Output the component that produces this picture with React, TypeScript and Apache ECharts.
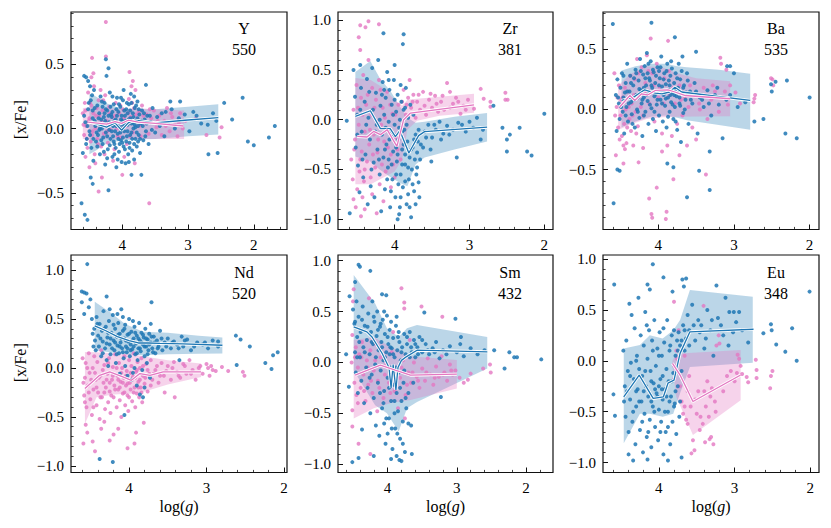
import React, { useEffect, useRef } from 'react';
import * as echarts from 'echarts';

const FONT = '"Liberation Serif", "DejaVu Serif", serif';
const BLUE = '#1f77b4';
const PINK = '#e377c2';

const ELEMENTS = ['Y', 'Zr', 'Ba', 'Nd', 'Sm', 'Eu'];
const COUNTS = ['550', '381', '535', '520', '432', '348'];
const X_TICKS = [4, 3, 2];
const Y_TICKS_SMALL = [-0.5, 0, 0.5];
const Y_TICKS_LARGE = [-1, -0.5, 0, 0.5, 1];
const X_RANGES = [[4.78, 1.495], [4.757, 1.884], [4.73, 1.876], [4.75, 1.96], [4.717, 1.61], [4.738, 1.885]];
const Y_RANGES = [[-0.785, 0.907], [-1.104, 1.083], [-0.998, 0.81], [-1.067, 1.153], [-1.082, 1.056], [-1.098, 1.04]];

// ---------- Y ----------
const Y_BLUE_PTS = [[4.62,-0.58],[4.57,-0.67],[4.53,-0.71],[4.60,-0.19],[4.58,0.41],[4.55,0.40],[4.52,0.37],[4.49,0.33],[4.24,0.41],[4.21,0.47],[4.25,0.54],[4.21,-0.48],[4.48,-0.38],[4.45,-0.43],[3.64,0.34],[3.86,-0.36],[3.71,-0.36],[3.12,0.21],[2.87,0.10],[2.70,0.03],[2.69,-0.20],[2.55,-0.19],[2.45,0.20],[2.33,0.07],[2.17,0.24],[2.09,-0.10],[2.00,-0.13],[1.77,-0.07],[1.68,0.02],[3.27,0.21],[3.34,0.13],
[4.56,0.05],[4.54,-0.08],[4.52,0.15],[4.50,-0.02],[4.48,0.22],[4.47,-0.15],[4.45,0.08],[4.44,-0.25],[4.43,0.30],[4.41,0.02],[4.40,-0.10],[4.38,0.18],[4.37,-0.05],[4.35,0.12],[4.34,-0.20],[4.33,0.25],[4.31,0.00],[4.30,-0.12],[4.28,0.09],[4.27,0.20],[4.26,-0.28],[4.25,-0.03],[4.23,0.14],[4.22,-0.16],[4.20,0.05],[4.19,0.28],[4.18,-0.08],[4.17,0.11],[4.15,-0.22],[4.14,0.02],[4.13,0.19],[4.12,-0.12],[4.10,0.07],[4.09,-0.30],[4.08,0.24],[4.07,-0.04],[4.06,0.13],[4.05,-0.18],[4.04,0.01],[4.03,0.17],[4.02,-0.09],[4.01,-0.26],[4.00,0.06],[3.99,0.22],[3.98,-0.14],[3.97,-0.02],[3.96,0.10],[3.95,-0.27],[3.94,0.15],[3.93,-0.06],[3.92,0.03],[3.91,-0.20],[3.90,0.19],[3.89,-0.11],[3.88,0.08],[3.87,0.27],[3.86,-0.03],[3.85,-0.17],[3.84,0.12],[3.83,0.00],[3.82,-0.24],[3.81,0.16],[3.80,-0.08],[3.79,0.06],[3.78,-0.14],[3.77,0.21],[3.76,0.02],[3.75,-0.05],[3.74,0.11],[3.73,-0.19],[3.72,0.04],[3.70,0.14],[3.68,-0.09],[3.66,0.07],[3.64,-0.02],[3.62,0.10],[3.60,-0.12],[3.57,0.05],[3.54,0.16],[3.50,-0.03],[3.47,0.09],[3.43,0.02],[3.40,0.12],[3.36,-0.06],[3.30,0.05],[3.25,0.15],[3.20,0.00],[3.14,0.08],[3.05,0.11],[2.98,-0.02],[2.92,0.13],[2.80,0.04],[2.62,0.12],[2.57,0.06],
[4.45,0.14],[4.39,-0.03],[4.32,0.07],[4.29,-0.07],[4.24,0.02],[4.16,0.09],[4.11,-0.02],[4.06,0.04],[4.01,0.10],[3.96,0.03],[3.92,0.12],[3.88,-0.05],[3.84,0.05],[3.80,0.01],[3.76,-0.10],[4.20,-0.01],[4.14,-0.06],[4.27,0.12],[4.35,-0.01],[4.42,0.06],[4.09,0.15],[3.99,-0.07],[4.04,-0.12],[3.94,-0.10],[4.18,0.17],[3.86,0.20],[4.12,-0.20],[3.98,0.30],[4.23,-0.23],[4.07,-0.24],[3.90,-0.26],[4.15,0.25],[3.82,0.25],[4.30,0.17],[4.02,0.24],
[4.58,0.10],[4.55,-0.12],[4.53,0.02],[4.51,0.20],[4.49,-0.05],[4.46,0.26],[4.44,-0.08],[4.42,0.16],[4.40,0.04],[4.38,-0.14],[4.36,0.08],[4.34,0.00],[4.32,-0.09],[4.31,0.21],[4.29,0.03],[4.28,-0.18],[4.26,0.06],[4.25,0.15],[4.23,-0.06],[4.21,0.10],[4.19,-0.13],[4.18,0.03],[4.16,-0.02],[4.15,0.13],[4.13,-0.10],[4.12,0.06],[4.10,-0.15],[4.09,0.02],[4.08,0.10],[4.06,-0.08],[4.05,0.19],[4.03,-0.03],[4.02,0.07],[4.00,-0.11],[3.99,0.03],[3.97,0.14],[3.96,-0.16],[3.95,0.06],[3.93,0.20],[3.92,-0.02],[3.90,0.07],[3.89,-0.15],[3.88,0.14],[3.86,0.04],[3.85,-0.08],[3.83,0.09],[3.82,-0.12],[3.81,0.03],[3.79,0.18],[3.78,-0.03],[3.77,0.08],[3.75,0.15],[3.73,-0.08],[3.71,0.06],[3.69,0.02],[3.67,0.12],[3.65,-0.06],[3.63,0.04],[3.58,0.10],[3.55,-0.01]];
const Y_PINK_PTS = [[4.25,0.83],[4.25,0.56],[4.46,0.55],[4.44,0.43],[3.89,0.44],[3.84,0.37],[4.36,-0.49],[4.31,-0.38],[4.00,-0.36],[3.59,-0.58],[3.81,-0.27],[4.50,-0.30],[2.49,0.01],[2.52,-0.07],[2.72,-0.05],[2.88,0.08],
[4.60,0.12],[4.58,-0.05],[4.57,0.20],[4.55,0.02],[4.53,-0.15],[4.52,0.28],[4.50,0.08],[4.48,-0.10],[4.47,0.18],[4.45,-0.02],[4.43,0.33],[4.42,-0.20],[4.40,0.10],[4.38,-0.08],[4.36,0.22],[4.34,0.04],[4.32,-0.14],[4.30,0.14],[4.28,-0.04],[4.26,0.26],[4.24,0.06],[4.22,-0.11],[4.20,0.17],[4.18,-0.01],[4.15,0.09],[4.12,-0.16],[4.10,0.20],[4.08,0.00],[4.05,0.12],[4.02,-0.07],[3.99,0.15],[3.96,0.05],[3.93,-0.12],[3.90,0.23],[3.87,0.09],[3.84,-0.03],[3.82,0.16],[3.80,0.30],[3.78,0.07],[3.75,0.13],[3.72,-0.06],[3.70,0.18],[3.66,0.04],[3.63,0.11],[3.60,-0.04],[3.56,0.08],[3.52,0.14],[3.48,0.01],[3.44,0.10],[3.40,-0.05],[3.36,0.06],[3.32,0.16],[3.28,-0.02],[3.24,0.09],[3.20,0.03],[3.16,-0.06],[3.12,0.12],[3.08,0.00],[3.04,0.06],[4.56,-0.22],[4.41,-0.27],[4.27,-0.20],[4.14,-0.25],[3.97,-0.22],[4.47,0.40],[4.33,0.30],[3.86,0.33],
[4.59,0.03],[4.56,0.14],[4.54,-0.08],[4.51,0.06],[4.49,0.20],[4.46,-0.05],[4.44,0.12],[4.41,0.00],[4.39,0.16],[4.37,-0.12],[4.35,0.10],[4.31,0.05],[4.29,0.22],[4.23,-0.02],[4.19,0.12],[4.16,0.04],[4.11,0.10],[4.07,-0.06],[4.03,0.18],[3.98,0.08],[3.94,0.02],[3.91,0.12],[3.88,-0.06],[3.85,0.20],[3.79,0.11],[3.74,0.02],[3.68,0.10],[3.58,0.15],[3.46,0.06],[3.34,0.02],[3.26,0.12],[3.14,0.04]];
const Y_BLUE_BAND = [[4.50,-0.20,0.27],[4.40,-0.17,0.25],[4.25,-0.12,0.20],[4.10,-0.10,0.17],[3.95,-0.09,0.15],[3.80,-0.085,0.15],[3.50,-0.08,0.15],[3.00,-0.06,0.17],[2.54,-0.045,0.19]];
const Y_PINK_BAND = [[4.60,-0.08,0.16],[4.40,-0.08,0.17],[4.20,-0.085,0.16],[4.00,-0.08,0.15],[3.80,-0.08,0.16],[3.50,-0.08,0.15],[3.06,-0.08,0.14]];
const Y_BLUE_MED = [[4.49,0.05],[4.24,0.012],[4.11,0.044],[4.01,-0.013],[3.91,0.044],[3.81,0.065],[3.50,0.045],[3.05,0.065],[2.54,0.085]];
const Y_PINK_MED = [[4.52,0.05],[4.24,0.035],[4.11,0.055],[4.01,0.04],[3.91,0.065],[3.76,0.05],[3.50,0.04],[3.07,0.02]];

// ---------- Zr ----------
const ZR_BLUE_PTS = [[4.64,-0.01],[4.60,-0.94],[4.15,0.87],[3.88,0.86],[3.89,0.76],[2.68,0.14],[2.56,-0.08],[2.50,-0.20],[2.46,-0.15],[2.50,-0.32],[2.33,-0.08],[2.23,-0.32],[2.17,-0.36],[2.00,0.06],[3.17,-0.38],[3.51,-0.42],[3.68,-0.63],[3.67,-0.78],[2.85,-0.20],
[4.55,0.50],[4.53,0.23],[4.52,-0.28],[4.50,0.05],[4.49,-0.46],[4.47,-0.73],[4.46,0.55],[4.45,0.32],[4.44,-0.12],[4.42,-0.58],[4.40,0.18],[4.39,-0.35],[4.37,0.41],[4.36,-0.85],[4.35,0.02],[4.33,-0.20],[4.32,-0.67],[4.30,0.52],[4.29,0.10],[4.28,-0.43],[4.27,-0.78],[4.25,0.27],[4.24,-0.05],[4.23,-0.30],[4.22,0.60],[4.20,-0.55],[4.19,0.14],[4.18,-0.92],[4.17,-0.15],[4.16,0.38],[4.15,-0.38],[4.14,0.05],[4.13,-0.70],[4.12,0.22],[4.11,-0.25],[4.10,0.48],[4.09,-0.48],[4.08,-0.02],[4.07,0.30],[4.06,-0.88],[4.05,-0.12],[4.04,0.15],[4.03,-0.60],[4.02,-0.32],[4.01,0.40],[4.00,-0.05],[3.99,-0.78],[3.98,0.08],[3.97,-0.42],[3.96,0.25],[3.95,-0.20],[3.94,-0.95],[3.93,0.00],[3.92,-0.55],[3.91,0.18],[3.90,-0.30],[3.89,-0.68],[3.88,0.10],[3.87,-0.10],[3.86,-0.45],[3.85,0.32],[3.84,-0.85],[3.83,-0.22],[3.82,0.02],[3.81,-0.60],[3.80,-0.38],[3.79,0.15],[3.78,-0.98],[3.77,-0.50],[3.76,-0.28],[3.75,0.05],[3.74,-0.72],[3.73,-0.40],[3.72,-0.15],[3.71,-0.55],[3.70,-0.33],[3.68,-0.10],[3.65,-0.25],[3.60,-0.12],[3.55,-0.05],[3.50,-0.18],[3.45,-0.10],[3.40,-0.02],[3.35,-0.14],[3.30,-0.06],[3.22,-0.10],[3.15,-0.03],[3.05,-0.12],[2.95,-0.08],[2.90,0.02],[4.08,-0.40],[3.95,-0.65],[4.02,0.05],[3.90,-0.12],[3.98,-0.28],[4.12,-0.08],[4.20,0.00],[3.86,-0.35],[3.82,-0.75],[3.93,-0.88],[4.05,-0.72],[4.00,0.55],[3.96,-1.00],
[4.50,-0.15],[4.46,0.10],[4.43,-0.40],[4.38,-0.05],[4.34,0.28],[4.31,-0.50],[4.26,-0.12],[4.21,-0.40],[4.17,0.25],[4.13,-0.30],[4.10,-0.60],[4.07,-0.20],[4.04,-0.45],[4.01,-0.15],[3.98,-0.55],[3.96,-0.35],[3.94,-0.08],[3.92,-0.78],[3.90,-0.45],[3.88,-0.25],[3.86,-0.62],[3.84,-0.05],[3.82,-0.48],[3.80,-0.88],[3.78,-0.30],[3.76,-0.65],[3.74,-0.20],[3.72,-0.85],[3.70,-0.48],[3.69,-0.22],[3.66,-0.40],[3.62,-0.28],[3.58,-0.18],[3.52,-0.30],[3.47,-0.05],[3.38,-0.20],[3.27,-0.15],[3.10,-0.05],[3.00,-0.02],[2.82,-0.10],[4.00,0.20],[4.08,0.40],[4.14,0.30],[3.92,0.35],[3.86,0.12]];
const ZR_PINK_PTS = [[4.46,0.95],[4.35,0.99],[4.39,0.93],[4.48,0.83],[4.46,0.70],[4.21,0.96],[4.55,-0.80],[4.45,-0.97],[4.40,-0.90],[4.24,-0.94],[3.30,0.37],[3.26,0.28],[2.85,0.31],[2.81,0.21],[2.72,0.18],[2.72,0.13],[2.52,0.27],[2.52,0.20],[2.49,0.20],[2.94,0.11],
[4.58,-0.40],[4.56,-0.60],[4.55,0.10],[4.53,-0.20],[4.51,0.35],[4.50,-0.70],[4.48,-0.05],[4.47,-0.52],[4.45,0.22],[4.44,-0.32],[4.42,0.45],[4.41,-0.62],[4.40,-0.12],[4.38,0.15],[4.37,-0.42],[4.35,0.60],[4.34,-0.25],[4.32,-0.58],[4.31,0.05],[4.30,0.32],[4.28,-0.15],[4.26,-0.48],[4.25,0.20],[4.23,-0.33],[4.21,0.40],[4.20,-0.65],[4.18,-0.05],[4.16,0.12],[4.14,-0.22],[4.12,-0.52],[4.10,0.28],[4.08,-0.10],[4.05,-0.35],[4.03,0.06],[4.00,-0.58],[3.98,-0.18],[3.95,0.15],[3.92,-0.40],[3.88,0.30],[3.85,0.05],[3.82,0.22],[3.80,0.40],[3.78,0.12],[3.75,0.25],[3.72,0.02],[3.70,0.18],[3.66,0.10],[3.62,0.28],[3.58,0.05],[3.54,0.20],[3.50,0.12],[3.46,0.24],[3.42,0.08],[3.38,0.18],[3.34,0.10],[3.22,0.16],[3.18,0.22],[3.12,0.06],[3.08,0.14],[3.02,0.20],[4.43,-0.78],[4.30,-0.75],[4.15,-0.82],[4.05,-0.68],[4.52,-0.88],
[4.54,-0.30],[4.49,0.12],[4.46,-0.40],[4.43,0.05],[4.40,-0.50],[4.36,0.25],[4.33,-0.10],[4.29,-0.35],[4.27,0.12],[4.22,-0.20],[4.19,0.30],[4.17,-0.45],[4.13,0.02],[4.09,-0.28],[4.06,0.15],[4.02,-0.45],[3.99,0.05],[3.96,-0.30],[3.90,0.18],[3.84,0.15],[3.76,0.18],[3.68,0.25],[3.60,0.14],[3.52,0.26],[3.44,0.16],[3.36,0.24],[3.26,0.12],[3.15,0.18],[3.05,0.10]];
const ZR_BLUE_BAND = [[4.525,-0.37,0.48],[4.325,-0.42,0.59],[4.20,-0.50,0.42],[4.05,-0.58,0.28],[3.92,-0.64,0.12],[3.83,-0.67,0.02],[3.72,-0.45,-0.03],[3.60,-0.38,-0.02],[3.20,-0.30,0.03],[2.765,-0.22,0.067]];
const ZR_PINK_BAND = [[4.525,-0.65,0.42],[4.32,-0.65,0.40],[4.15,-0.58,0.32],[4.00,-0.52,0.20],[3.90,-0.40,0.14],[3.83,-0.10,0.20],[3.70,-0.01,0.21],[3.40,0.04,0.23],[2.94,0.07,0.26]];
const ZR_BLUE_MED = [[4.525,0.033],[4.325,0.09],[4.19,-0.09],[4.06,-0.09],[3.99,-0.17],[3.93,-0.11],[3.81,-0.335],[3.68,-0.16],[3.60,-0.12],[2.765,-0.075]];
const ZR_PINK_MED = [[4.50,-0.168],[4.37,-0.174],[4.28,-0.118],[4.19,-0.15],[4.10,-0.10],[3.97,-0.268],[3.88,0.0],[3.79,0.067],[2.94,0.15]];

// ---------- Ba ----------
const BA_BLUE_PTS = [[4.60,0.71],[4.59,-0.78],[4.09,0.72],[3.78,0.60],[3.50,0.48],[3.62,-0.73],[3.88,-0.45],[3.80,-0.48],[3.32,-0.67],[3.32,-0.35],[3.46,-0.51],[3.15,-0.24],[3.09,0.36],[3.05,0.36],[3.00,0.30],[2.73,-0.10],[2.61,-0.08],[2.45,0.23],[2.51,0.21],[2.50,0.15],[2.30,0.24],[2.32,-0.20],[2.17,-0.24],[2.00,0.10],[4.51,-0.51],[4.54,-0.50],
[4.56,0.12],[4.55,-0.18],[4.54,0.25],[4.52,0.05],[4.51,-0.08],[4.50,0.18],[4.48,0.30],[4.47,-0.02],[4.46,0.10],[4.45,-0.20],[4.43,0.22],[4.42,0.02],[4.41,0.38],[4.40,-0.10],[4.38,0.15],[4.37,0.28],[4.35,-0.04],[4.34,0.08],[4.33,0.20],[4.31,-0.15],[4.30,0.33],[4.29,0.12],[4.28,0.00],[4.26,0.24],[4.25,-0.07],[4.24,0.42],[4.23,0.16],[4.22,0.05],[4.21,-0.22],[4.20,0.29],[4.19,0.10],[4.18,0.36],[4.17,-0.02],[4.16,0.20],[4.15,0.47],[4.14,0.07],[4.13,-0.12],[4.12,0.26],[4.11,0.14],[4.10,0.40],[4.09,0.01],[4.08,0.18],[4.07,-0.08],[4.06,0.31],[4.05,0.11],[4.04,0.22],[4.03,-0.18],[4.02,0.04],[4.01,0.35],[4.00,0.15],[3.99,-0.05],[3.98,0.26],[3.97,0.08],[3.96,0.44],[3.95,0.19],[3.94,-0.10],[3.93,0.12],[3.92,0.30],[3.91,0.03],[3.90,0.21],[3.89,-0.15],[3.88,0.38],[3.87,0.10],[3.86,0.16],[3.85,-0.02],[3.84,0.28],[3.83,0.06],[3.82,0.34],[3.81,0.14],[3.80,-0.08],[3.79,0.22],[3.78,0.02],[3.77,0.30],[3.76,0.11],[3.75,-0.17],[3.74,0.18],[3.73,0.38],[3.72,0.05],[3.71,0.25],[3.70,-0.27],[3.69,0.13],[3.68,0.44],[3.67,-0.03],[3.66,0.20],[3.64,0.08],[3.62,0.30],[3.60,-0.12],[3.58,0.15],[3.55,0.05],[3.52,0.22],[3.48,-0.20],[3.45,0.10],[3.40,0.02],[3.35,0.16],[3.30,-0.05],[3.25,0.12],[3.20,0.04],[3.10,0.08],[2.95,0.02],[2.85,0.06],[4.44,0.14],[4.36,0.06],[4.27,0.10],[4.19,0.18],[4.11,0.24],[4.03,0.13],[3.96,0.16],[3.90,0.09],[3.84,0.12],[3.78,0.16],[3.72,0.10],[4.32,0.26],[4.14,0.30],[3.99,0.32],[3.86,0.24],
[4.53,0.10],[4.49,0.02],[4.46,0.28],[4.43,-0.05],[4.41,0.15],[4.39,0.05],[4.36,0.22],[4.34,-0.12],[4.31,0.08],[4.29,0.30],[4.27,-0.02],[4.25,0.17],[4.23,0.32],[4.21,0.08],[4.19,-0.05],[4.17,0.26],[4.15,0.12],[4.13,0.38],[4.11,0.04],[4.09,0.20],[4.07,0.33],[4.05,-0.02],[4.03,0.28],[4.01,0.08],[3.99,0.20],[3.97,0.35],[3.95,0.05],[3.93,0.25],[3.91,0.14],[3.89,0.32],[3.87,-0.06],[3.85,0.20],[3.83,0.40],[3.81,0.04],[3.79,0.12],[3.77,-0.10],[3.75,0.26],[3.73,0.15],[3.71,0.03],[3.69,0.32],[3.67,0.18],[3.65,0.00],[3.63,0.14],[3.61,0.24],[3.57,0.08],[3.50,0.15],[3.42,0.08],[3.33,0.05],[3.22,0.18],[3.05,0.12]];
const BA_PINK_PTS = [[4.10,0.59],[3.87,0.57],[3.18,0.43],[3.17,0.38],[3.10,0.33],[2.51,0.26],[2.49,0.25],[2.48,0.20],[4.12,-0.74],[4.09,-0.87],[4.08,-0.90],[3.89,-0.85],[3.90,-0.91],[4.02,-0.65],[3.80,-0.58],[3.37,-0.54],[2.72,0.12],[2.73,0.09],[2.74,0.06],[4.56,-0.38],[4.44,-0.33],[4.26,-0.44],[4.46,-0.45],
[4.58,0.30],[4.55,0.02],[4.53,-0.15],[4.52,0.20],[4.50,-0.05],[4.48,-0.22],[4.47,0.10],[4.45,-0.12],[4.43,0.00],[4.42,-0.28],[4.40,0.15],[4.38,-0.08],[4.36,-0.18],[4.35,0.05],[4.33,-0.30],[4.31,0.25],[4.30,-0.02],[4.28,0.42],[4.27,-0.14],[4.25,0.12],[4.22,0.35],[4.20,-0.05],[4.17,0.22],[4.15,0.45],[4.12,0.05],[4.08,0.30],[4.05,-0.10],[4.02,0.38],[3.98,0.18],[3.95,-0.20],[3.92,0.26],[3.88,-0.30],[3.85,0.12],[3.82,-0.22],[3.78,0.05],[3.75,-0.12],[3.72,0.20],[3.68,-0.05],[3.65,0.10],[3.60,0.02],[3.55,-0.15],[3.50,0.12],[3.45,0.00],[3.40,0.18],[3.35,-0.08],[3.30,0.08],[3.25,0.15],[3.20,-0.02],[3.15,0.10],[3.08,0.04],[3.05,0.20],[2.98,0.14],[2.92,0.05],[3.62,-0.30],[3.72,-0.38],[3.50,-0.25],[3.95,-0.35],[4.20,-0.32],
[4.57,-0.05],[4.54,0.10],[4.51,-0.25],[4.49,0.08],[4.46,-0.30],[4.44,0.18],[4.41,-0.15],[4.39,0.02],[4.37,0.28],[4.34,-0.05],[4.32,0.12],[4.29,-0.20],[4.26,0.30],[4.23,0.02],[4.18,0.15],[4.13,0.32],[4.06,0.20],[4.00,0.10],[3.93,0.05],[3.86,0.32],[3.80,0.18],[3.70,0.08],[3.58,0.20],[3.46,0.05],[3.38,0.12],[3.28,0.20],[3.12,0.15]];
const BA_BLUE_BAND = [[4.485,-0.147,0.324],[4.30,-0.10,0.36],[4.10,-0.06,0.38],[3.90,-0.05,0.38],[3.75,-0.07,0.36],[3.62,-0.09,0.35],[3.20,-0.13,0.33],[2.785,-0.169,0.297]];
const BA_PINK_BAND = [[4.53,-0.17,0.20],[4.35,-0.12,0.30],[4.15,-0.08,0.36],[3.95,-0.065,0.35],[3.75,-0.06,0.30],[3.50,-0.058,0.26],[3.05,-0.056,0.235]];
const BA_BLUE_MED = [[4.485,0.075],[4.33,0.10],[4.18,0.163],[4.04,0.136],[3.95,0.13],[3.85,0.145],[3.78,0.185],[3.69,0.145],[2.785,0.075]];
const BA_PINK_MED = [[4.51,0.02],[4.375,0.116],[4.31,0.075],[4.22,0.13],[4.14,0.12],[4.04,0.158],[3.87,0.163],[3.78,0.145],[3.65,0.116],[3.05,0.089]];

// ---------- Nd ----------
const ND_BLUE_PTS = [[4.54,1.06],[4.61,0.78],[4.58,0.77],[4.55,0.76],[4.61,0.67],[4.50,0.70],[4.29,0.73],[3.72,0.45],[3.71,0.67],[4.38,-0.93],[4.21,-0.96],[4.06,-0.48],[2.62,0.33],[2.61,0.03],[2.56,0.29],[2.44,0.22],[2.24,0.05],[2.16,-0.01],[2.14,0.13],[2.08,0.16],[2.85,0.22],[3.32,0.32],[3.35,0.08],[3.82,-0.30],[3.86,-0.27],[4.58,0.55],[4.52,0.62],[4.48,0.50],
[4.45,0.40],[4.44,0.28],[4.43,0.18],[4.42,0.52],[4.40,0.33],[4.39,0.22],[4.38,0.45],[4.36,0.12],[4.35,0.38],[4.34,0.27],[4.33,0.58],[4.31,0.20],[4.30,0.42],[4.29,0.08],[4.28,0.31],[4.26,0.48],[4.25,0.24],[4.24,0.14],[4.23,0.36],[4.21,0.54],[4.20,0.28],[4.19,0.18],[4.18,0.40],[4.17,0.05],[4.16,0.32],[4.15,0.23],[4.14,0.46],[4.13,0.15],[4.12,0.35],[4.11,0.26],[4.10,0.60],[4.09,0.20],[4.08,0.38],[4.07,0.10],[4.06,0.30],[4.05,0.44],[4.04,0.22],[4.03,0.16],[4.02,0.34],[4.01,0.27],[4.00,0.50],[3.99,0.12],[3.98,0.24],[3.97,0.37],[3.96,0.19],[3.95,-0.05],[3.94,0.30],[3.93,0.42],[3.92,0.14],[3.91,0.25],[3.90,0.33],[3.89,0.08],[3.88,0.20],[3.87,0.46],[3.86,0.28],[3.85,0.17],[3.84,0.36],[3.83,-0.02],[3.82,0.24],[3.81,0.31],[3.80,0.12],[3.79,0.40],[3.78,0.22],[3.77,0.05],[3.76,0.29],[3.75,0.18],[3.74,0.35],[3.73,-0.10],[3.72,0.26],[3.70,0.20],[3.68,0.32],[3.66,0.15],[3.64,0.28],[3.62,0.22],[3.60,0.38],[3.57,0.18],[3.54,0.26],[3.50,0.30],[3.46,0.20],[3.42,0.27],[3.38,0.24],[3.30,0.22],[3.25,0.29],[3.20,0.18],[3.12,0.26],[3.05,0.24],[2.98,0.20],[2.92,0.28],[2.85,0.27],[4.05,0.02],[3.97,-0.12],[3.90,-0.18],[4.12,-0.06],[4.27,0.02],[3.80,-0.20],[3.93,0.00],[4.02,-0.08],
[4.47,0.35],[4.46,0.22],[4.41,0.45],[4.37,0.30],[4.34,0.15],[4.32,0.40],[4.29,0.25],[4.27,0.36],[4.24,0.30],[4.22,0.20],[4.20,0.44],[4.18,0.26],[4.16,0.14],[4.14,0.34],[4.12,0.22],[4.10,0.30],[4.08,0.16],[4.06,0.40],[4.04,0.28],[4.02,0.20],[4.00,0.35],[3.98,0.18],[3.96,0.28],[3.94,0.22],[3.92,0.36],[3.90,0.15],[3.88,0.30],[3.86,0.20],[3.84,0.26],[3.82,0.34],[3.80,0.22],[3.78,0.30],[3.76,0.14],[3.74,0.24],[3.71,0.32],[3.69,0.16],[3.67,0.26],[3.63,0.20],[3.58,0.30],[3.52,0.22],[3.44,0.26],[3.36,0.20],[3.28,0.28],[3.16,0.22],[3.02,0.26],[4.15,0.55],[4.08,0.52],[3.95,0.48],[4.25,0.60]];
const ND_PINK_PTS = [[4.59,-0.77],[4.47,-0.75],[4.54,-0.66],[4.56,-0.58],[4.25,-0.74],[4.20,-0.68],[4.14,-0.62],[3.93,-0.77],[3.91,-0.66],[3.81,-0.56],[4.36,-0.62],[4.32,-0.55],[2.92,-0.02],[2.94,0.02],[2.72,-0.03],[2.53,-0.04],[2.51,-0.08],[3.41,-0.30],[3.54,-0.25],[4.44,-0.85],[4.02,-0.82],
[4.60,0.10],[4.58,-0.28],[4.57,-0.10],[4.56,0.05],[4.55,-0.40],[4.53,-0.18],[4.52,0.15],[4.51,-0.05],[4.50,-0.32],[4.48,-0.48],[4.47,0.00],[4.46,-0.22],[4.45,0.12],[4.43,-0.12],[4.42,-0.38],[4.41,0.06],[4.40,-0.25],[4.38,-0.52],[4.37,-0.08],[4.36,0.18],[4.35,-0.30],[4.33,-0.15],[4.32,0.03],[4.31,-0.42],[4.30,-0.20],[4.28,-0.06],[4.27,-0.35],[4.26,0.10],[4.25,-0.24],[4.24,-0.46],[4.22,-0.12],[4.21,0.01],[4.20,-0.30],[4.19,-0.18],[4.18,0.14],[4.16,-0.40],[4.15,-0.08],[4.14,-0.22],[4.13,0.05],[4.12,-0.33],[4.11,-0.14],[4.10,-0.50],[4.09,0.00],[4.08,-0.26],[4.07,-0.10],[4.06,0.12],[4.05,-0.38],[4.04,-0.18],[4.03,-0.03],[4.02,-0.28],[4.01,-0.44],[4.00,0.08],[3.99,-0.15],[3.98,-0.22],[3.97,0.02],[3.96,-0.34],[3.95,-0.09],[3.94,0.15],[3.93,-0.20],[3.92,-0.40],[3.91,-0.04],[3.90,-0.26],[3.89,0.06],[3.88,-0.14],[3.87,-0.30],[3.86,0.00],[3.85,-0.20],[3.84,0.10],[3.83,-0.35],[3.82,-0.08],[3.80,-0.16],[3.78,0.04],[3.76,-0.24],[3.74,-0.06],[3.72,0.08],[3.70,-0.12],[3.66,-0.02],[3.62,-0.15],[3.58,0.05],[3.55,-0.08],[3.50,0.02],[3.46,-0.12],[3.42,0.06],[3.38,-0.04],[3.34,-0.10],[3.30,0.04],[3.26,-0.06],[3.22,0.08],[3.18,-0.02],[3.14,-0.12],[3.10,0.00],[3.05,-0.06],[3.00,0.04],[2.96,-0.08],[2.88,-0.03],[2.80,0.01],
[4.59,-0.15],[4.57,-0.35],[4.54,0.00],[4.52,-0.25],[4.49,-0.12],[4.46,-0.40],[4.44,-0.05],[4.42,-0.20],[4.39,-0.10],[4.37,-0.30],[4.34,-0.02],[4.32,-0.25],[4.29,-0.12],[4.27,0.05],[4.25,-0.15],[4.23,-0.28],[4.21,-0.08],[4.18,-0.22],[4.16,0.00],[4.14,-0.12],[4.12,-0.20],[4.10,-0.05],[4.08,-0.15],[4.06,-0.25],[4.04,-0.08],[4.02,-0.16],[4.00,-0.30],[3.98,-0.05],[3.96,-0.12],[3.94,-0.25],[3.92,-0.10],[3.90,-0.02],[3.88,-0.20],[3.86,-0.12],[3.84,-0.25],[3.82,0.02],[3.79,-0.10],[3.76,-0.02],[3.72,-0.18],[3.68,-0.06],[3.64,0.02],[3.60,-0.08],[3.52,-0.03],[3.44,0.00],[3.36,-0.08],[3.28,0.02],[3.20,-0.06],[3.08,0.02],[2.98,0.00]];
const ND_BLUE_BAND = [[4.443,0.18,0.675],[4.25,0.16,0.57],[4.05,0.14,0.45],[3.82,0.13,0.37],[3.50,0.14,0.36],[3.10,0.145,0.33],[2.795,0.147,0.31]];
const ND_PINK_BAND = [[4.57,-0.57,0.164],[4.42,-0.30,0.16],[4.20,-0.27,0.15],[3.95,-0.26,0.14],[3.82,-0.245,0.12],[3.50,-0.17,0.08],[3.07,-0.092,0.045]];
const ND_BLUE_MED = [[4.443,0.43],[4.30,0.38],[4.15,0.32],[4.00,0.28],[3.88,0.255],[3.75,0.255],[3.60,0.25],[3.30,0.245],[2.795,0.232]];
const ND_PINK_MED = [[4.57,-0.21],[4.38,-0.075],[4.25,-0.04],[4.08,-0.092],[3.97,-0.126],[3.86,-0.057],[3.73,-0.075],[3.56,-0.04],[3.07,-0.04]];

// ---------- Sm ----------
const SM_BLUE_PTS = [[4.42,0.96],[4.40,0.94],[4.25,0.90],[4.47,0.79],[4.55,0.65],[4.56,-0.24],[4.51,-0.98],[4.42,-0.94],[4.37,-0.66],[4.20,-0.92],[4.08,0.67],[4.02,0.66],[3.47,0.49],[3.02,0.43],[2.94,0.25],[2.46,0.12],[2.24,0.10],[2.31,-0.06],[2.17,0.05],[2.13,0.05],[1.78,0.03],[3.23,-0.34],[3.83,-0.96],[3.80,-0.97],[3.65,-0.90],[4.60,0.08],
[4.50,0.52],[4.48,0.38],[4.47,0.10],[4.46,-0.10],[4.45,0.60],[4.44,0.25],[4.43,-0.30],[4.42,0.45],[4.40,0.05],[4.39,0.30],[4.38,-0.18],[4.36,0.55],[4.35,0.15],[4.34,-0.40],[4.33,0.36],[4.31,-0.05],[4.30,0.22],[4.29,-0.25],[4.28,0.48],[4.26,0.08],[4.25,-0.50],[4.24,0.30],[4.23,-0.12],[4.22,0.60],[4.21,0.18],[4.20,-0.35],[4.19,0.40],[4.18,-0.02],[4.17,-0.62],[4.16,0.26],[4.15,0.50],[4.14,-0.20],[4.13,0.12],[4.12,-0.72],[4.11,0.35],[4.10,-0.08],[4.09,0.20],[4.08,-0.45],[4.07,0.42],[4.06,0.02],[4.05,-0.28],[4.04,0.28],[4.03,-0.80],[4.02,0.10],[4.01,0.46],[4.00,-0.15],[3.99,0.18],[3.98,-0.55],[3.97,0.32],[3.96,-0.05],[3.95,-0.38],[3.94,0.14],[3.93,-0.85],[3.92,0.24],[3.91,-0.22],[3.90,0.05],[3.89,-0.65],[3.88,0.36],[3.87,-0.30],[3.86,0.12],[3.85,-0.48],[3.84,-0.10],[3.83,0.20],[3.82,-0.75],[3.81,0.02],[3.80,-0.38],[3.79,0.15],[3.78,-0.58],[3.77,-0.20],[3.76,0.28],[3.75,-0.88],[3.74,0.08],[3.73,-0.45],[3.72,0.18],[3.70,-0.30],[3.68,0.30],[3.66,-0.62],[3.65,0.10],[3.62,0.22],[3.60,0.05],[3.57,0.15],[3.54,0.25],[3.50,0.10],[3.45,0.18],[3.40,0.08],[3.35,0.14],[3.30,0.20],[3.25,0.04],[3.20,0.12],[3.10,0.16],[3.00,0.10],[2.90,0.06],[2.80,0.14],[2.70,0.08],[2.60,0.12],[3.95,-0.95],[4.00,-0.70],[3.87,-0.92],[4.05,-0.60],[3.90,-0.50],[4.10,0.38],[3.97,0.08],[3.85,0.25],
[4.47,0.40],[4.44,0.05],[4.41,0.20],[4.37,0.42],[4.33,0.10],[4.29,0.35],[4.26,-0.15],[4.23,0.20],[4.20,0.45],[4.17,0.05],[4.14,0.32],[4.11,-0.30],[4.08,0.15],[4.06,-0.40],[4.04,0.05],[4.02,-0.55],[4.00,0.25],[3.98,-0.25],[3.96,0.15],[3.94,-0.65],[3.92,0.08],[3.90,-0.38],[3.88,-0.05],[3.86,-0.70],[3.84,0.30],[3.82,-0.25],[3.80,0.10],[3.78,-0.80],[3.76,-0.08],[3.74,-0.35],[3.72,0.25],[3.70,-0.60],[3.68,0.05],[3.66,0.15],[3.63,-0.20],[3.60,0.18],[3.56,0.08],[3.50,0.22],[3.42,0.12],[3.32,0.10],[3.15,0.08],[2.95,0.18],[4.05,0.50],[3.95,0.40],[3.87,0.45]];
const SM_PINK_PTS = [[4.49,0.72],[4.50,0.60],[4.51,0.27],[4.52,0.00],[4.51,-0.47],[4.51,-0.63],[4.42,-0.80],[4.25,-0.90],[4.27,0.63],[3.80,0.73],[3.76,0.59],[3.76,0.53],[3.51,0.55],[3.21,0.45],[2.80,-0.11],[2.84,-0.17],[2.52,-0.02],[2.51,-0.10],[2.62,-0.06],[2.90,-0.20],
[4.48,-0.20],[4.46,0.15],[4.45,-0.32],[4.43,-0.05],[4.41,0.08],[4.39,-0.25],[4.37,0.20],[4.35,-0.12],[4.32,-0.38],[4.30,0.02],[4.28,-0.22],[4.25,0.12],[4.22,-0.30],[4.20,-0.08],[4.17,0.18],[4.14,-0.18],[4.10,0.05],[4.06,-0.35],[4.02,-0.02],[3.98,-0.20],[3.94,0.10],[3.90,-0.28],[3.86,-0.06],[3.82,-0.15],[3.78,0.02],[3.74,-0.32],[3.70,-0.10],[3.66,-0.20],[3.62,0.00],[3.58,-0.14],[3.54,-0.25],[3.50,-0.06],[3.46,-0.18],[3.42,0.04],[3.38,-0.12],[3.34,-0.22],[3.30,-0.04],[3.26,-0.14],[3.22,0.06],[3.18,-0.10],[3.14,-0.18],[3.10,-0.02],[3.06,-0.12],[3.02,-0.08],[2.96,-0.15],[3.85,-0.45],[3.75,-0.55],[4.15,-0.48],[3.92,0.30],[3.68,0.22],
[4.47,0.05],[4.43,-0.40],[4.38,0.05],[4.34,-0.28],[4.29,-0.05],[4.24,-0.18],[4.18,0.02],[4.12,-0.25],[4.04,-0.12],[3.96,-0.30],[3.88,-0.18],[3.80,-0.05],[3.72,-0.22],[3.64,-0.10],[3.56,-0.18],[3.44,-0.10],[3.32,-0.15],[3.20,-0.12],[3.08,-0.08]];
const SM_BLUE_BAND = [[4.49,-0.08,0.86],[4.18,-0.42,0.58],[4.01,-0.50,0.335],[3.84,-0.68,0.25],[3.72,-0.45,0.335],[3.575,-0.39,0.367],[2.56,-0.06,0.25]];
const SM_PINK_BAND = [[4.49,-0.55,0.22],[4.20,-0.45,0.25],[3.95,-0.40,0.15],[3.67,-0.37,0.06],[3.00,-0.256,0.023]];
const SM_BLUE_MED = [[4.49,0.35],[4.30,0.30],[4.225,0.25],[4.08,0.09],[3.98,-0.05],[3.95,-0.25],[3.92,-0.02],[3.88,-0.27],[3.85,-0.05],[3.80,0.02],[3.72,0.06],[3.575,0.12],[2.56,0.104]];
const SM_PINK_MED = [[4.47,-0.125],[4.105,-0.027],[3.89,-0.076],[3.67,-0.125],[3.00,-0.115]];

// ---------- Eu ----------
const EU_BLUE_PTS = [[4.59,0.75],[4.58,-0.54],[4.60,-0.33],[4.08,0.95],[3.94,0.82],[4.15,0.75],[4.12,0.70],[3.64,0.81],[3.69,0.80],[3.67,0.73],[3.82,0.68],[3.24,0.74],[3.12,0.62],[3.07,0.48],[3.01,0.48],[2.94,0.48],[2.62,0.27],[2.52,0.36],[2.51,0.30],[2.45,0.16],[2.33,0.09],[2.24,0.32],[2.18,0.00],[2.01,0.68],[4.34,-0.98],[4.40,-0.92],[4.15,-0.97],[3.88,-0.98],[3.70,-0.95],
[4.47,0.10],[4.45,-0.25],[4.44,-0.55],[4.43,0.20],[4.41,-0.10],[4.40,-0.70],[4.39,0.56],[4.38,-0.38],[4.37,-0.02],[4.36,0.45],[4.35,-0.60],[4.33,-0.18],[4.32,0.32],[4.31,-0.82],[4.30,-0.45],[4.29,0.05],[4.28,-0.28],[4.27,0.62],[4.26,-0.08],[4.25,-0.68],[4.24,0.25],[4.23,-0.40],[4.22,-0.15],[4.21,-0.90],[4.20,0.15],[4.19,-0.52],[4.18,0.48],[4.17,-0.25],[4.16,-0.75],[4.15,0.02],[4.14,-0.35],[4.13,0.30],[4.12,-0.58],[4.11,-0.10],[4.10,-0.85],[4.09,0.20],[4.08,-0.45],[4.07,-0.22],[4.06,0.40],[4.05,-0.65],[4.04,-0.05],[4.03,-0.32],[4.02,0.12],[4.01,-0.78],[4.00,-0.48],[3.99,0.28],[3.98,-0.18],[3.97,-0.60],[3.96,0.05],[3.95,-0.38],[3.94,-0.92],[3.93,0.18],[3.92,-0.28],[3.91,-0.70],[3.90,-0.08],[3.89,0.40],[3.88,-0.50],[3.87,-0.20],[3.86,0.10],[3.85,-0.82],[3.84,-0.35],[3.83,0.25],[3.82,-0.60],[3.81,-0.12],[3.80,0.30],[3.79,-0.42],[3.78,0.05],[3.77,-0.72],[3.76,0.20],[3.75,-0.25],[3.74,0.28],[3.73,-0.55],[3.72,0.15],[3.70,-0.10],[3.68,0.35],[3.66,0.10],[3.64,0.22],[3.62,0.45],[3.60,0.30],[3.56,0.55],[3.52,0.20],[3.48,0.40],[3.44,0.35],[3.40,0.12],[3.36,0.50],[3.32,0.30],[3.28,0.05],[3.22,0.42],[3.15,0.25],[3.08,0.15],[2.98,0.38],[2.90,0.30],[2.82,0.18],[4.05,-0.28],[3.95,-0.15],[4.20,-0.30],[4.10,-0.40],[3.90,-0.35],[4.30,-0.30],[4.00,-0.25],
[4.46,-0.40],[4.42,-0.30],[4.38,-0.15],[4.34,-0.50],[4.30,0.00],[4.26,-0.40],[4.22,-0.60],[4.18,-0.10],[4.14,-0.70],[4.10,-0.20],[4.06,-0.50],[4.02,-0.35],[3.98,-0.70],[3.96,-0.28],[3.92,-0.50],[3.88,-0.65],[3.86,-0.40],[3.83,-0.20],[3.80,-0.45],[3.78,-0.30],[3.75,0.10],[3.72,-0.40],[3.70,0.20],[3.66,0.30],[3.60,0.15],[3.54,0.35],[3.46,0.28],[3.38,0.22],[3.30,0.40],[3.18,0.35],[3.02,0.28],[4.00,0.05],[4.08,0.10],[3.85,0.15],[4.16,0.35],[3.94,0.32]];
const EU_PINK_PTS = [[3.80,0.58],[3.41,0.54],[3.77,0.10],[3.76,0.02],[3.21,0.25],[3.20,0.17],[2.96,0.06],[2.94,0.02],[2.97,-0.12],[2.90,-0.13],[2.84,-0.16],[2.82,-0.21],[2.72,0.01],[2.71,-0.09],[2.71,-0.17],[2.50,-0.10],[2.52,-0.15],[2.53,-0.27],[3.68,-0.52],[3.64,-0.58],[3.55,-0.78],[3.57,-0.91],[3.53,-0.88],[3.39,-0.80],[3.33,-0.77],[3.31,-0.75],[3.28,-0.82],[3.50,-0.52],[3.45,-0.55],[3.38,-0.45],[3.32,-0.35],[3.30,-0.27],[3.72,-0.25],[3.70,-0.40],[3.62,-0.30],[3.58,-0.45],[3.48,-0.30],[3.42,-0.62],[3.36,-0.20],[3.25,-0.50],[3.10,-0.15],[3.05,-0.10],[3.80,-0.05],[3.74,0.30],[3.66,0.05],[3.60,-0.15],[3.80,-0.18],[3.24,0.15],
[3.66,-0.45],[3.62,-0.62],[3.52,-0.38],[3.46,-0.68],[3.40,-0.30],[3.34,-0.55],[3.26,-0.40],[3.15,-0.30],[3.00,-0.20],[2.92,-0.05]];
const EU_BLUE_BAND = [[4.464,-0.81,0.12],[4.25,-0.52,0.155],[4.12,-0.52,0.25],[3.95,-0.55,0.22],[3.81,-0.52,0.30],[3.72,-0.32,0.40],[3.59,-0.06,0.695],[2.76,-0.02,0.63]];
const EU_PINK_BAND = [[3.82,-0.05,0.0],[3.77,-0.354,0.07],[3.55,-0.73,0.08],[2.92,-0.387,0.105]];
const EU_BLUE_MED = [[4.464,-0.354],[4.26,-0.14],[4.075,-0.37],[3.94,-0.354],[3.88,-0.22],[3.80,-0.19],[3.72,0.073],[3.59,0.285],[2.75,0.31]];
const EU_PINK_MED = [[3.82,-0.026],[3.72,-0.14],[3.55,-0.40],[2.92,-0.14]];

const BLUE_PTS = [Y_BLUE_PTS, ZR_BLUE_PTS, BA_BLUE_PTS, ND_BLUE_PTS, SM_BLUE_PTS, EU_BLUE_PTS];
const PINK_PTS = [Y_PINK_PTS, ZR_PINK_PTS, BA_PINK_PTS, ND_PINK_PTS, SM_PINK_PTS, EU_PINK_PTS];
const BLUE_BANDS = [Y_BLUE_BAND, ZR_BLUE_BAND, BA_BLUE_BAND, ND_BLUE_BAND, SM_BLUE_BAND, EU_BLUE_BAND];
const PINK_BANDS = [Y_PINK_BAND, ZR_PINK_BAND, BA_PINK_BAND, ND_PINK_BAND, SM_PINK_BAND, EU_PINK_BAND];
const BLUE_MEDS = [Y_BLUE_MED, ZR_BLUE_MED, BA_BLUE_MED, ND_BLUE_MED, SM_BLUE_MED, EU_BLUE_MED];
const PINK_MEDS = [Y_PINK_MED, ZR_PINK_MED, BA_PINK_MED, ND_PINK_MED, SM_PINK_MED, EU_PINK_MED];

const GRID_LEFTS = [71, 338, 603];
const GRID_WIDTHS = [216, 215, 216];
const GRID_TOPS = [12, 255];
const GRID_HEIGHT = 217.5;

function minorValues(lo: number, hi: number, step: number, majors: number[]) {
  const out: number[] = [];
  const start = Math.ceil(lo / step - 1e-9);
  const end = Math.floor(hi / step + 1e-9);
  for (let k = start; k <= end; k++) {
    const v = Math.round(k * step * 1000) / 1000;
    if (!majors.some((m) => Math.abs(m - v) < 1e-6)) out.push(v);
  }
  return out;
}

function fmtY(v: number) {
  const s = Math.abs(v) < 1e-9 ? '0.0' : v.toFixed(1);
  return s.replace('-', '\u2212');
}

function buildOption() {
  const grid: any[] = [];
  const xAxis: any[] = [];
  const yAxis: any[] = [];
  const series: any[] = [];
  const graphic: any[] = [];
  const tickColor = '#111';

  for (let i = 0; i < 6; i++) {
    const col = i % 3;
    const row = Math.floor(i / 3);
    const left = GRID_LEFTS[col];
    const width = GRID_WIDTHS[col];
    const top = GRID_TOPS[row];
    grid.push({
      left, top, width, height: GRID_HEIGHT,
      show: true, borderColor: '#111', borderWidth: 1.2, backgroundColor: 'transparent',
    });
    const [xmax, xmin] = X_RANGES[i];
    const [ymin, ymax] = Y_RANGES[i];
    const yt = ymin < -1 ? Y_TICKS_LARGE : Y_TICKS_SMALL;
    const xMinor = minorValues(xmin, xmax, 0.2, X_TICKS);
    const yMinor = minorValues(ymin, ymax, 0.1, yt);

    const baseX = {
      type: 'value', gridIndex: i, min: xmin, max: xmax, inverse: true, position: 'bottom',
      splitLine: { show: false }, axisLine: { show: false, onZero: false },
    };
    xAxis.push({
      ...baseX,
      axisTick: { show: true, inside: true, length: 5, customValues: X_TICKS, lineStyle: { color: tickColor, width: 1 } },
      axisLabel: { show: true, customValues: X_TICKS, formatter: (v: number) => String(Math.round(v)), fontFamily: FONT, fontSize: 15, color: '#000', margin: 8 },
    });
    xAxis.push({
      ...baseX,
      axisTick: { show: true, inside: true, length: 2.6, customValues: xMinor, lineStyle: { color: tickColor, width: 0.8 } },
      axisLabel: { show: false },
    });
    const baseY = {
      type: 'value', gridIndex: i, min: ymin, max: ymax, position: 'left',
      splitLine: { show: false }, axisLine: { show: false, onZero: false },
    };
    yAxis.push({
      ...baseY,
      axisTick: { show: true, inside: true, length: 5, customValues: yt, lineStyle: { color: tickColor, width: 1 } },
      axisLabel: { show: true, customValues: yt, formatter: fmtY, fontFamily: FONT, fontSize: 15, color: '#000', margin: 7 },
    });
    yAxis.push({
      ...baseY,
      axisTick: { show: true, inside: true, length: 2.6, customValues: yMinor, lineStyle: { color: tickColor, width: 0.8 } },
      axisLabel: { show: false },
    });

    const xi = 2 * i;
    const yi = 2 * i;

    series.push({
      type: 'scatter', xAxisIndex: xi, yAxisIndex: yi, data: PINK_PTS[i],
      symbolSize: 4, itemStyle: { color: PINK, opacity: 0.8 }, silent: true,
    });
    series.push({
      type: 'scatter', xAxisIndex: xi, yAxisIndex: yi, data: BLUE_PTS[i],
      symbolSize: 4, itemStyle: { color: BLUE, opacity: 0.85 }, silent: true,
    });

    const bandSeries = (band: number[][], fill: string) => ({
      type: 'custom', xAxisIndex: xi, yAxisIndex: yi, clip: true, silent: true,
      data: band.map((b) => [b[0], b[1], b[2]]),
      encode: { x: 0, y: [1, 2] },
      renderItem: (params: any, api: any) => {
        if (params.dataIndex !== 0) return null;
        const upper = band.map((b) => api.coord([b[0], b[2]]));
        const lower = band.map((b) => api.coord([b[0], b[1]])).reverse();
        return { type: 'polygon', shape: { points: upper.concat(lower) }, style: { fill } };
      },
    });
    series.push(bandSeries(BLUE_BANDS[i], 'rgba(31,119,180,0.3)'));
    series.push(bandSeries(PINK_BANDS[i], 'rgba(227,119,194,0.32)'));

    const lineSeries = (pts: number[][], color: string, w: number) => ({
      type: 'line', xAxisIndex: xi, yAxisIndex: yi, data: pts, showSymbol: false, symbol: 'none',
      silent: true, lineStyle: { color, width: w }, z: 3,
    });
    series.push(lineSeries(BLUE_MEDS[i], '#ffffff', 3));
    series.push(lineSeries(BLUE_MEDS[i], BLUE, 1.3));
    series.push(lineSeries(PINK_MEDS[i], '#ffffff', 3));
    series.push(lineSeries(PINK_MEDS[i], PINK, 1.3));

    const cx = left + width - 43;
    const ty = row === 0 ? 28 : 272;
    graphic.push({
      type: 'text', x: cx, y: ty, z: 10,
      style: { text: ELEMENTS[i], fill: '#000', fontFamily: FONT, fontSize: 16, align: 'center', verticalAlign: 'middle' },
    });
    graphic.push({
      type: 'text', x: cx, y: ty + 21.5, z: 10,
      style: { text: COUNTS[i], fill: '#000', fontFamily: FONT, fontSize: 16, align: 'center', verticalAlign: 'middle' },
    });
    if (col === 0) {
      graphic.push({
        type: 'text', x: 20, y: top + GRID_HEIGHT / 2 - 1, rotation: Math.PI / 2, z: 10,
        style: { text: '[x/Fe]', fill: '#000', fontFamily: FONT, fontSize: 16, align: 'center', verticalAlign: 'middle' },
      });
    }
    if (row === 1) {
      graphic.push({
        type: 'text', x: left + width / 2, y: 506, z: 10,
        style: {
          text: '{a|log(}{b|g}{a|)}', fill: '#000', align: 'center', verticalAlign: 'middle',
          rich: {
            a: { fontFamily: FONT, fontSize: 16, fill: '#000' },
            b: { fontFamily: FONT, fontSize: 16, fontStyle: 'italic', fill: '#000' },
          },
        },
      });
    }
  }

  return {
    animation: false,
    backgroundColor: '#ffffff',
    grid, xAxis, yAxis, series, graphic,
  };
}

export default function App() {
  const ref = useRef<HTMLDivElement>(null);
  useEffect(() => {
    if (!ref.current) return;
    const chart = echarts.init(ref.current, undefined, { renderer: 'svg' });
    chart.setOption(buildOption() as any);
    return () => chart.dispose();
  }, []);
  return (
    <div
      ref={ref}
      style={{ position: 'fixed', left: 0, top: 0, width: 831, height: 528, background: '#fff' }}
    />
  );
}
